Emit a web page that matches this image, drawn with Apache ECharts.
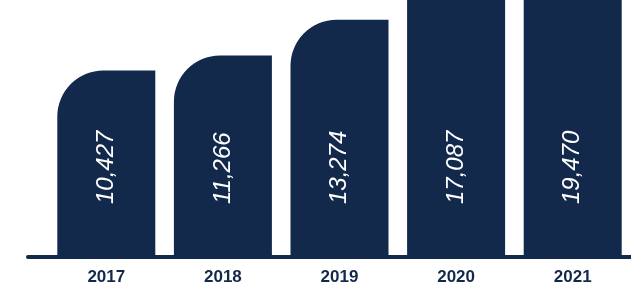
<!DOCTYPE html>
<html>
	<head>
		<meta charset="UTF-8">
		<title>Yearly totals</title>
		<script src="https://cdn.jsdelivr.net/npm/echarts@6/dist/echarts.min.js"></script>
		<style>
			html, body { margin: 0; padding: 0; background: #fff; }
			#chart { width: 631px; height: 286px; }
		</style>
	</head>
	<body>
		<div id="chart"></div>
		<script>
		// data
		var years = ['2017', '2018', '2019', '2020', '2021'];
		var totals = [10427, 11266, 13274, 17087, 19470];

		var navy = '#13294b';
		var yMax = 14390;  // the picture cuts the two tall bars at its top edge

		function withCommas(v) {
			return String(v).replace(/\B(?=(\d{3})+(?!\d))/g, ',');
		}

		// bars that run past the top lose their rounded corner (it is cut off)
		var barData = totals.map(function (v) {
			return {
				value: v,
				itemStyle: { borderRadius: v > yMax ? 0 : [46, 0, 0, 0] }
			};
		});

		var myChart = echarts.init(document.getElementById('chart'));
		var option = {
			animation: false,
			grid: [
				{ left: 48, right: -1, top: 0, bottom: 29 },
				// only used for the long base line
				{ left: 28, right: 0, top: 0, bottom: 29 }
			],
			xAxis: [{
				type: 'category',
				data: years,
				gridIndex: 0,
				axisLine: { show: false },
				axisTick: { show: false },
				axisLabel: {
					color: navy,
					fontFamily: 'Liberation Sans, Arial, sans-serif',
					fontWeight: 'bold',
					fontSize: 17,
					margin: 13
				}
			}, {
				type: 'category',
				data: [''],
				gridIndex: 1,
				axisLine: { show: true, lineStyle: { color: navy, width: 4 } },
				axisTick: { show: false },
				axisLabel: { show: false }
			}],
			yAxis: [{
				type: 'value',
				gridIndex: 0,
				min: 0,
				max: yMax,
				show: false,
				splitLine: { show: false }
			}, {
				type: 'value',
				gridIndex: 1,
				show: false,
				splitLine: { show: false }
			}],
			series: [{
				type: 'bar',
				data: barData,
				barWidth: 98,
				clip: true,
				itemStyle: { color: navy },
				label: {
					show: true,
					position: 'insideBottom',
					rotate: 90,
					align: 'left',
					verticalAlign: 'middle',
					distance: 52,
					color: '#fff',
					fontStyle: 'italic',
					fontFamily: 'Liberation Sans, Arial, sans-serif',
					fontSize: 24,
					formatter: function (p) { return withCommas(p.value); }
				}
			}]
		};
		myChart.setOption(option);
		</script>
	</body>
</html>
